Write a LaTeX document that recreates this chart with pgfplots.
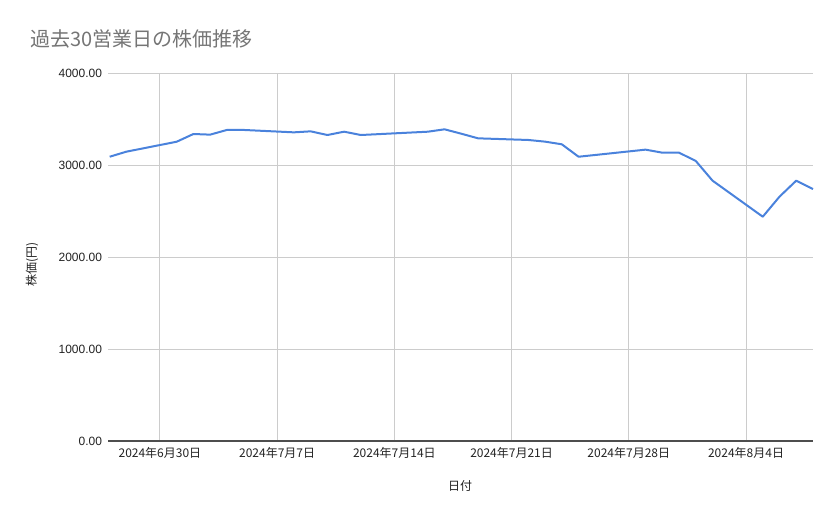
\documentclass[border=0pt]{standalone}
\usepackage{fontspec}
\usepackage{pgfplots}
\pgfplotsset{compat=1.18}
\setmainfont{Liberation Sans}
\newfontfamily\jp{Noto Sans CJK JP}

\definecolor{linecol}{HTML}{4A82DC}
\definecolor{gridcol}{HTML}{CCCCCC}
\definecolor{titlecol}{HTML}{757575}
\definecolor{textcol}{HTML}{222222}

% day 0 = 2024-06-30
\pgfplotstableread{
day price
-3 3090
-2 3145
1 3253
2 3337
3 3330
4 3381
5 3381
8 3355
9 3366
10 3326
11 3362
12 3326
16 3362
17 3388
18 3340
19 3290
22 3272
23 3254
24 3225
25 3090
26 3109
29 3167
30 3134
31 3134
32 3044
33 2830
36 2438
37 2656
38 2830
39 2739
}\prices

\begin{document}
\begin{tikzpicture}
\path[use as bounding box] (0,0) rectangle (629.25pt,389.25pt);
\begin{axis}[
    at={(81pt,58.5pt)}, anchor=south west,
    scale only axis,
    width=528.75pt, height=276pt,
    xmin=-3.1, xmax=39,
    ymin=0, ymax=4000,
    xtick={0,7,14,21,28,35},
    xticklabels={2024年6月30日,2024年7月7日,2024年7月14日,2024年7月21日,2024年7月28日,2024年8月4日},
    ytick={0,1000,2000,3000,4000},
    grid=major,
    major grid style={gridcol, line width=0.75pt},
    axis x line*=bottom,
    axis y line*=left,
    x axis line style={draw=textcol!80, line width=0.9pt, -},
    y axis line style={draw=none},
    tick style={draw=none},
    xticklabel style={font=\jp\fontsize{9pt}{10pt}\selectfont, text=textcol, yshift=-1pt},
    yticklabel style={font=\fontsize{9pt}{10pt}\selectfont, text=textcol, xshift=-1pt},
    yticklabel={\pgfmathprintnumber[fixed, fixed zerofill, precision=2, 1000 sep={}, assume math mode=true]{\tick}},
    clip=false,
]
\addplot[linecol, line width=1.5pt, line join=round, mark=none] table[x=day, y=price] {\prices};
\end{axis}
\node[anchor=west, font=\jp\fontsize{15pt}{18pt}\selectfont, text=titlecol] at (19.5pt,360.4pt) {過去30営業日の株価推移};
\node[rotate=90, font=\jp\fontsize{9pt}{10pt}\selectfont, text=textcol] at (24pt,191.25pt) {株価(円)};
\node[font=\jp\fontsize{9pt}{10pt}\selectfont, text=textcol] at (345pt,24.75pt) {日付};
\end{tikzpicture}
\end{document}
